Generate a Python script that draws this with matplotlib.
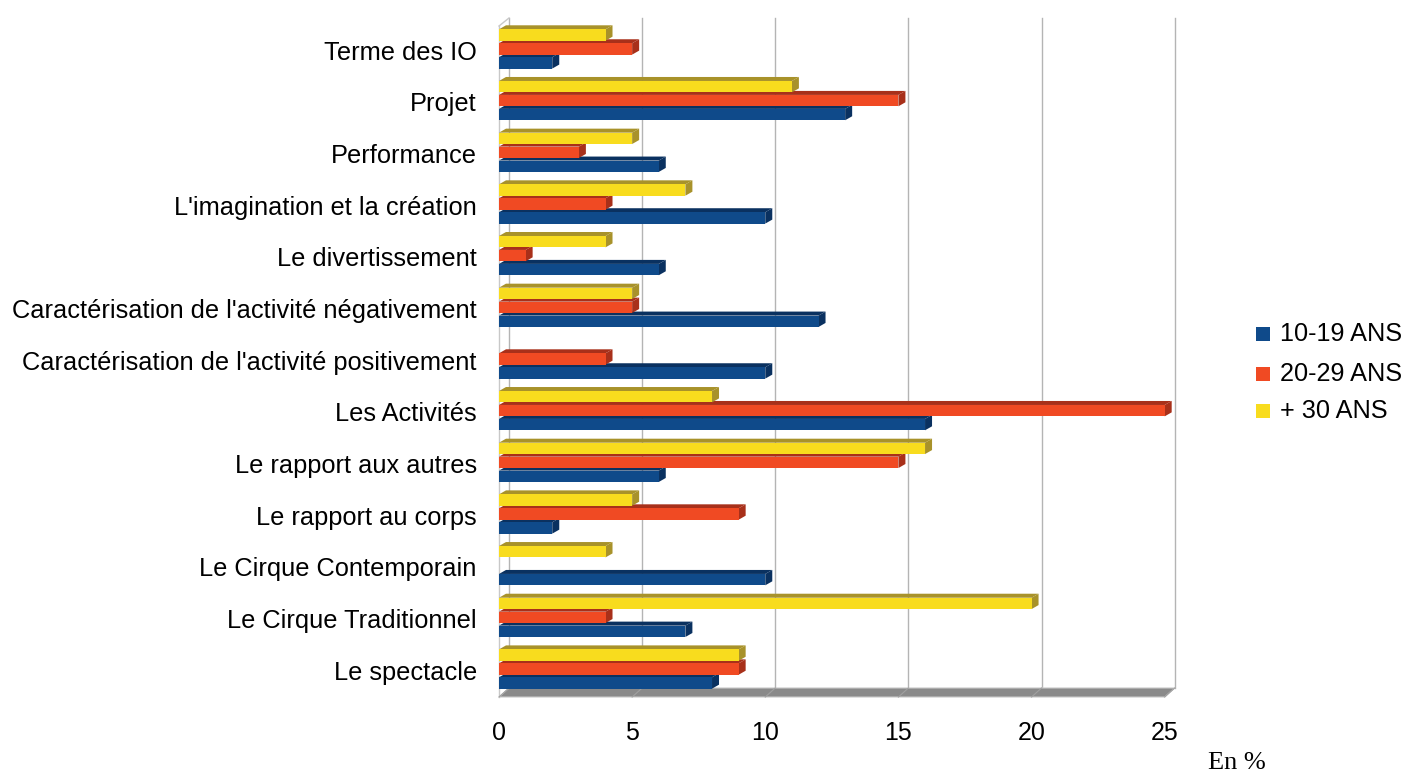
import matplotlib
matplotlib.use("Agg")
import matplotlib.pyplot as plt
from matplotlib.patches import Polygon, Rectangle
import numpy as np

# données (en %), de haut en bas comme sur l'image
categories = ["Terme des IO", "Projet", "Performance", "L'imagination et la création",
              "Le divertissement", "Caractérisation de l'activité négativement",
              "Caractérisation de l'activité positivement", "Les Activités",
              "Le rapport aux autres", "Le rapport au corps", "Le Cirque Contemporain",
              "Le Cirque Traditionnel", "Le spectacle"]
ans_10_19 = [2, 13, 6, 10, 6, 12, 10, 16, 6, 2, 10, 7, 8]
ans_20_29 = [5, 15, 3, 4, 1, 5, 4, 25, 15, 9, 0, 4, 9]
ans_30 = [4, 11, 5, 7, 4, 5, 0, 8, 16, 5, 4, 20, 9]
series_names = ["10-19 ANS", "20-29 ANS", "+ 30 ANS"]
xticks = [0, 5, 10, 15, 20, 25]

face = ["#0f4a8a", "#f04a23", "#f8dc1e"]
dark = ["#0a3160", "#a8301a", "#a8922a"]

plt.rcParams['font.family'] = ['Liberation Sans', 'DejaVu Sans']

W, H = 1408, 776
fig = plt.figure(figsize=(W / 100, H / 100), dpi=100)
# zone des axes en pixels
ax_l, ax_r, ax_t, ax_b = 499, 1178, 18, 697
ax = fig.add_axes([ax_l / W, 1 - ax_b / H, (ax_r - ax_l) / W, (ax_b - ax_t) / H])
xmax = 25.5
ymin, ymax = -0.52, 12.62
ax.set_xlim(0, xmax)
ax.set_ylim(ymin, ymax)

pxx = (ax_r - ax_l) / xmax          # pixels par unité en x
pxy = (ax_b - ax_t) / (ymax - ymin)  # pixels par unité en y

# profondeur du "3D"
wdx, wdy = 10 / pxx, 8 / pxy   # mur de fond
bdx, bdy = 7 / pxx, 4 / pxy    # barres

n = len(categories)
ypos = np.arange(n)[::-1]  # Terme des IO en haut

# mur du fond: grilles verticales décalées
floor_y = ymin + 9 / pxy
for t in xticks:
    ax.plot([t + wdx, t + wdx], [floor_y, ymax], color="#b4b4b4", lw=1, zorder=1, clip_on=False)
    ax.plot([t, t + wdx], [ymin, floor_y], color="#a0a0a0", lw=0.8, zorder=3, clip_on=False)
# mur de gauche
ax.plot([0, 0], [ymin, ymax - wdy], color="#c8c8c8", lw=1, zorder=1, clip_on=False)
ax.plot([0, wdx], [ymax - wdy, ymax], color="#c8c8c8", lw=1, zorder=1, clip_on=False)
# sol
ax.add_patch(Polygon([[0, ymin], [25, ymin], [25 + wdx, floor_y], [wdx, floor_y]],
                     closed=True, facecolor="#8a8a8a", edgecolor="#c8c8c8", lw=0.8,
                     zorder=2, clip_on=False))

bar_h = 0.22
offsets = [-0.27, 0.0, 0.27]  # bleu en bas, rouge au milieu, jaune en haut
shift = 0.06
data = [ans_10_19, ans_20_29, ans_30]


def bar3d(y0, v, i):
    if v <= 0:
        return
    y1 = y0 + bar_h
    ax.add_patch(Polygon([[0, y1], [v, y1], [v + bdx, y1 + bdy], [bdx, y1 + bdy]],
                         closed=True, facecolor=dark[i], edgecolor="none", zorder=4))
    ax.add_patch(Polygon([[v, y0], [v, y1], [v + bdx, y1 + bdy], [v + bdx, y0 + bdy]],
                         closed=True, facecolor=dark[i], edgecolor="none", zorder=4))
    ax.add_patch(Rectangle((0, y0), v, bar_h, facecolor=face[i], edgecolor="none", zorder=5))


for k in range(n):
    for i in range(3):
        yc = ypos[k] + offsets[i] + shift
        bar3d(yc - bar_h / 2 - bdy / 2, data[i][k], i)

ax.set_yticks(ypos)
ax.set_yticklabels(categories, fontsize=18.3)
ax.set_xticks(xticks)
ax.set_xticklabels([str(t) for t in xticks], fontsize=18)
ax.tick_params(axis="y", length=0, pad=16)
ax.tick_params(axis="x", length=0, pad=17)
for s in ax.spines.values():
    s.set_visible(False)

# légende
for i, (name, yy) in enumerate(zip(series_names, [334, 374, 411])):
    fig.patches.append(Rectangle(((1256) / W, 1 - (yy + 7) / H), 14 / W, 14 / H,
                                 facecolor=face[i], edgecolor="none",
                                 transform=fig.transFigure, figure=fig))
    fig.text(1280 / W, 1 - yy / H, name, fontsize=18.2, va="center", ha="left")

fig.text(1208 / W, 1 - 763 / H, "En %", fontsize=19, va="center", ha="left",
         family=['Liberation Serif', 'DejaVu Serif'])

fig.savefig("out.png", dpi=100)
